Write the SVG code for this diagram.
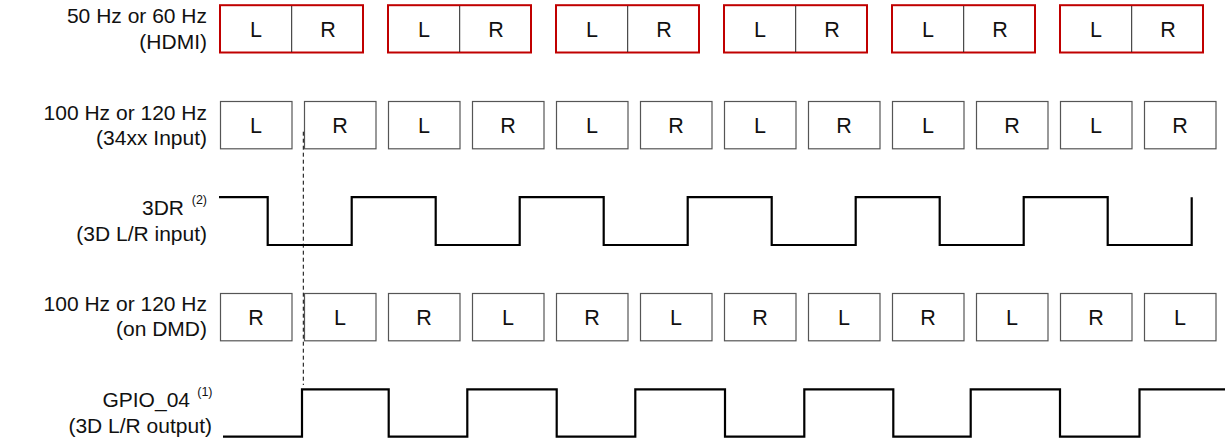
<svg xmlns="http://www.w3.org/2000/svg" width="1225" height="442" viewBox="0 0 1225 442">
<style>
text{font-family:"Liberation Sans",Arial,Helvetica,sans-serif;fill:#111}
.lbl{font-size:21px;text-anchor:end}
.sup{font-size:12.5px;text-anchor:end}
.bx{font-size:21.5px;text-anchor:middle}
.red{fill:#fff;stroke:#c00000;stroke-width:2}
.div{stroke:#222;stroke-width:1}
.gb{fill:#fff;stroke:#555;stroke-width:1.2}
.wave{fill:none;stroke:#000;stroke-width:2.2;stroke-linejoin:miter}
.dash{stroke:#000;stroke-width:1;stroke-dasharray:4 3;fill:none}
</style>
<rect width="1225" height="442" fill="#fff"/>

<g id="labels">
<text class="lbl" x="207" y="23">50 Hz or 60 Hz</text>
<text class="lbl" x="207" y="48.5">(HDMI)</text>
<text class="lbl" x="207" y="119.5">100 Hz or 120 Hz</text>
<text class="lbl" x="207" y="144.5">(34xx Input)</text>
<text class="lbl" x="184" y="215">3DR</text>
<text class="sup" x="207" y="204">(2)</text>
<text class="lbl" x="207" y="240.5">(3D L/R input)</text>
<text class="lbl" x="207" y="311">100 Hz or 120 Hz</text>
<text class="lbl" x="207" y="336">(on DMD)</text>
<text class="lbl" x="190" y="407">GPIO_04</text>
<text class="sup" x="212.5" y="396">(1)</text>
<text class="lbl" x="212" y="432.5">(3D L/R output)</text>
</g>

<g id="hdmi-1"><rect class="red" x="220" y="5.2" width="143" height="47.3"/><line class="div" x1="291.7" y1="6" x2="291.7" y2="52"/><text class="bx" x="256" y="36.8">L</text><text class="bx" x="328" y="36.8">R</text></g>
<g id="hdmi-2"><rect class="red" x="388" y="5.2" width="143" height="47.3"/><line class="div" x1="459.7" y1="6" x2="459.7" y2="52"/><text class="bx" x="424" y="36.8">L</text><text class="bx" x="496" y="36.8">R</text></g>
<g id="hdmi-3"><rect class="red" x="556" y="5.2" width="143" height="47.3"/><line class="div" x1="627.7" y1="6" x2="627.7" y2="52"/><text class="bx" x="592" y="36.8">L</text><text class="bx" x="664" y="36.8">R</text></g>
<g id="hdmi-4"><rect class="red" x="724" y="5.2" width="143" height="47.3"/><line class="div" x1="795.7" y1="6" x2="795.7" y2="52"/><text class="bx" x="760" y="36.8">L</text><text class="bx" x="832" y="36.8">R</text></g>
<g id="hdmi-5"><rect class="red" x="892" y="5.2" width="143" height="47.3"/><line class="div" x1="963.7" y1="6" x2="963.7" y2="52"/><text class="bx" x="928" y="36.8">L</text><text class="bx" x="1000" y="36.8">R</text></g>
<g id="hdmi-6"><rect class="red" x="1060" y="5.2" width="143" height="47.3"/><line class="div" x1="1131.7" y1="6" x2="1131.7" y2="52"/><text class="bx" x="1096" y="36.8">L</text><text class="bx" x="1168" y="36.8">R</text></g>

<g id="in-1"><rect class="gb" x="220.5" y="101.5" width="71.5" height="47.3"/><text class="bx" x="256" y="132.6">L</text></g>
<g id="in-2"><rect class="gb" x="304.5" y="101.5" width="71.5" height="47.3"/><text class="bx" x="340" y="132.6">R</text></g>
<g id="in-3"><rect class="gb" x="388.5" y="101.5" width="71.5" height="47.3"/><text class="bx" x="424" y="132.6">L</text></g>
<g id="in-4"><rect class="gb" x="472.5" y="101.5" width="71.5" height="47.3"/><text class="bx" x="508" y="132.6">R</text></g>
<g id="in-5"><rect class="gb" x="556.5" y="101.5" width="71.5" height="47.3"/><text class="bx" x="592" y="132.6">L</text></g>
<g id="in-6"><rect class="gb" x="640.5" y="101.5" width="71.5" height="47.3"/><text class="bx" x="676" y="132.6">R</text></g>
<g id="in-7"><rect class="gb" x="724.5" y="101.5" width="71.5" height="47.3"/><text class="bx" x="760" y="132.6">L</text></g>
<g id="in-8"><rect class="gb" x="808.5" y="101.5" width="71.5" height="47.3"/><text class="bx" x="844" y="132.6">R</text></g>
<g id="in-9"><rect class="gb" x="892.5" y="101.5" width="71.5" height="47.3"/><text class="bx" x="928" y="132.6">L</text></g>
<g id="in-10"><rect class="gb" x="976.5" y="101.5" width="71.5" height="47.3"/><text class="bx" x="1012" y="132.6">R</text></g>
<g id="in-11"><rect class="gb" x="1060.5" y="101.5" width="71.5" height="47.3"/><text class="bx" x="1096" y="132.6">L</text></g>
<g id="in-12"><rect class="gb" x="1144.5" y="101.5" width="71.5" height="47.3"/><text class="bx" x="1180" y="132.6">R</text></g>

<g id="dmd-1"><rect class="gb" x="220.5" y="293.5" width="71.5" height="47.3"/><text class="bx" x="256" y="324.6">R</text></g>
<g id="dmd-2"><rect class="gb" x="304.5" y="293.5" width="71.5" height="47.3"/><text class="bx" x="340" y="324.6">L</text></g>
<g id="dmd-3"><rect class="gb" x="388.5" y="293.5" width="71.5" height="47.3"/><text class="bx" x="424" y="324.6">R</text></g>
<g id="dmd-4"><rect class="gb" x="472.5" y="293.5" width="71.5" height="47.3"/><text class="bx" x="508" y="324.6">L</text></g>
<g id="dmd-5"><rect class="gb" x="556.5" y="293.5" width="71.5" height="47.3"/><text class="bx" x="592" y="324.6">R</text></g>
<g id="dmd-6"><rect class="gb" x="640.5" y="293.5" width="71.5" height="47.3"/><text class="bx" x="676" y="324.6">L</text></g>
<g id="dmd-7"><rect class="gb" x="724.5" y="293.5" width="71.5" height="47.3"/><text class="bx" x="760" y="324.6">R</text></g>
<g id="dmd-8"><rect class="gb" x="808.5" y="293.5" width="71.5" height="47.3"/><text class="bx" x="844" y="324.6">L</text></g>
<g id="dmd-9"><rect class="gb" x="892.5" y="293.5" width="71.5" height="47.3"/><text class="bx" x="928" y="324.6">R</text></g>
<g id="dmd-10"><rect class="gb" x="976.5" y="293.5" width="71.5" height="47.3"/><text class="bx" x="1012" y="324.6">L</text></g>
<g id="dmd-11"><rect class="gb" x="1060.5" y="293.5" width="71.5" height="47.3"/><text class="bx" x="1096" y="324.6">R</text></g>
<g id="dmd-12"><rect class="gb" x="1144.5" y="293.5" width="71.5" height="47.3"/><text class="bx" x="1180" y="324.6">L</text></g>

<g id="connectors">
<path id="wave-3dr" class="wave" d="M219,197.2 H267.7 V245 H351.7 V197.2 H435.7 V245 H519.7 V197.2 H603.7 V245 H687.7 V197.2 H771.7 V245 H855.7 V197.2 H939.7 V245 H1023.7 V197.2 H1107.7 V245 H1191.7 V197.2"/>
<path id="wave-gpio" class="wave" d="M223,436.7 H302 V389.3 H388.7 V436.7 H467.3 V389.3 H556.7 V436.7 H635.3 V389.3 H725 V436.7 H804.3 V389.3 H893.3 V436.7 H970.7 V389.3 H1060 V436.7 H1139.5 V389.3 H1226"/>
<line class="dash" x1="303.3" y1="131.7" x2="303.3" y2="385"/>
</g>
</svg>
